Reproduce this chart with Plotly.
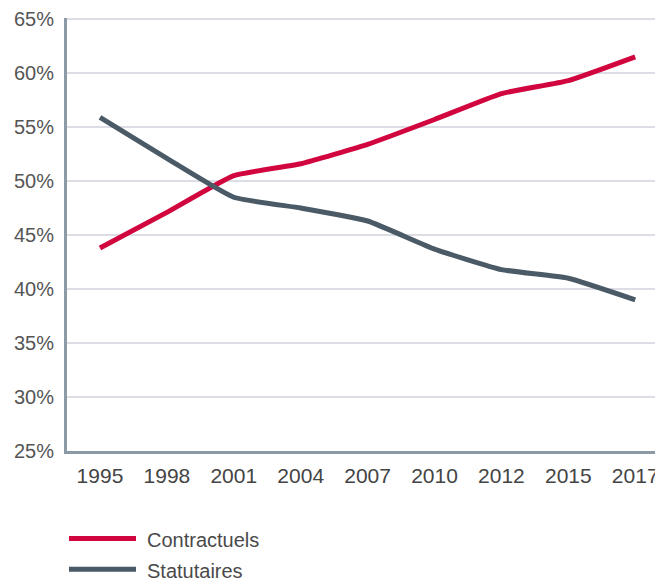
import plotly.graph_objects as go

years = ["1995", "1998", "2001", "2004", "2007", "2010", "2012", "2015", "2017"]
contractuels = [43.8, 47.1, 50.5, 51.6, 53.4, 55.7, 58.1, 59.3, 61.5]
statutaires = [55.9, 52.1, 48.5, 47.5, 46.3, 43.7, 41.8, 41.0, 39.0]
series_names = ["Contractuels", "Statutaires"]
series_colors = ["#D2063F", "#4A5A66"]
y_ticks = [25, 30, 35, 40, 45, 50, 55, 60, 65]

# page has an 8px body margin; figure coords = page coords - 8
OFF = 8
W, H = 663 - OFF, 584 - OFF
ML = 67 - OFF
MT = 15 - OFF
MR = 0
MB = H - (451 - OFF)
Y_TOP = 65.1

fig = go.Figure()
for name, vals, col in zip(series_names, [contractuels, statutaires], series_colors):
    fig.add_trace(go.Scatter(
        x=years, y=vals, mode="lines", name=name,
        line=dict(color=col, width=5, shape="spline", smoothing=0.4),
        showlegend=False, hoverinfo="x+y+name",
    ))

plot_w = W - ML - MR
plot_h = H - MT - MB
def px_to_paper_x(px):
    return (px - OFF - ML) / plot_w
def py_to_paper_y(py):
    return (H - MB - (py - OFF)) / plot_h

legend_rows = [539, 570]
for name, col, row in zip(series_names, series_colors, legend_rows):
    fig.add_shape(type="line", xref="paper", yref="paper",
                  x0=px_to_paper_x(69), x1=px_to_paper_x(136),
                  y0=py_to_paper_y(row), y1=py_to_paper_y(row),
                  line=dict(color=col, width=5))
    fig.add_annotation(xref="paper", yref="paper",
                       x=px_to_paper_x(145), y=py_to_paper_y(row + 2),
                       xanchor="left", yanchor="middle", showarrow=False,
                       text=name, font=dict(size=20, color="#4a4a4a",
                                            family="Liberation Sans, Arial, sans-serif"))

fig.update_layout(
    width=W, height=H,
    margin=dict(l=ML, r=MR, t=MT, b=MB),
    paper_bgcolor="white", plot_bgcolor="white",
    font=dict(family="Liberation Sans, Arial, sans-serif", size=20, color="#4a4a4a"),
    showlegend=False,
)
fig.update_xaxes(
    type="category", range=[-0.493, 8.415],
    showgrid=False, zeroline=False,
    showline=True, linecolor="#8C9AA5", linewidth=3,
    ticks="", ticklabelstandoff=4,
    tickfont=dict(size=21, color="#444444"),
)
fig.update_yaxes(
    range=[25, Y_TOP], tickvals=y_ticks, ticktext=[f"{v}%" for v in y_ticks],
    showgrid=True, gridcolor="#DDDDE5", gridwidth=1.5,
    zeroline=False,
    showline=True, linecolor="#8C9AA5", linewidth=3,
    ticks="", ticklabelstandoff=6, ticklabeloverflow="allow",
    tickfont=dict(size=20, color="#555555"),
)

fig.write_html("out.html")
